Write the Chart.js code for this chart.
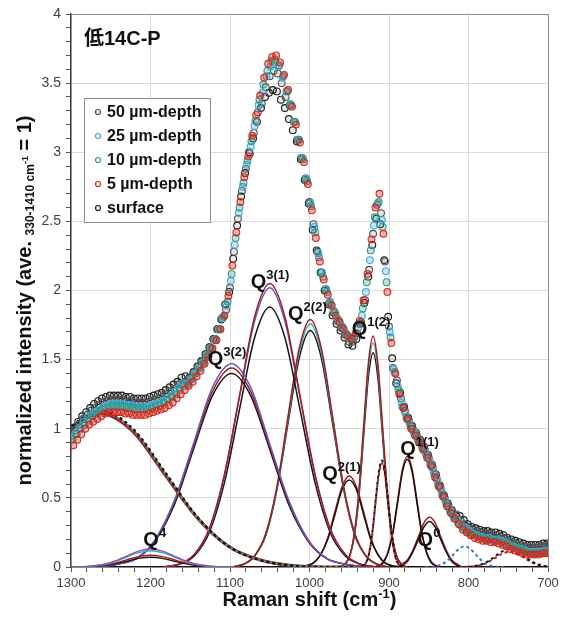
<!DOCTYPE html>
<html>
<head>
<meta charset="utf-8">
<script src="https://cdn.jsdelivr.net/npm/chart.js@4.4.1/dist/chart.umd.min.js"></script>
<style>
  body { margin: 0; background: #fff; }
</style>
</head>
<body>
<canvas id="ramanChart" width="569" height="618"></canvas>
<script>
// measured spectra, one value every 5 cm-1 going down from each start
var seriesNames = ['50 µm-depth', '25 µm-depth', '10 µm-depth', '5 µm-depth', 'surface'];
var seriesStart = [1300, 1299, 1298, 1297, 1296];
var stepCm = 5;

var depth50 = [
    0.95, 0.99, 1.03, 1.07, 1.10, 1.13, 1.15, 1.17, 1.19, 1.20,
    1.21, 1.21, 1.21, 1.21, 1.20, 1.20, 1.19, 1.19, 1.19, 1.19,
    1.20, 1.21, 1.22, 1.23, 1.25, 1.27, 1.29, 1.32, 1.33, 1.34,
    1.37, 1.41, 1.45, 1.49, 1.54, 1.59, 1.65, 1.72, 1.80, 1.86,
    2.02, 2.28, 2.52, 2.72, 2.88, 2.99, 3.14, 3.29, 3.35, 3.47,
    3.55, 3.59, 3.57, 3.50, 3.40, 3.34, 3.22, 3.09, 2.96, 2.81,
    2.64, 2.48, 2.28, 2.13, 2.01, 1.91, 1.84, 1.78, 1.73, 1.68,
    1.63, 1.63, 1.69, 1.77, 1.93, 2.15, 2.41, 2.62, 2.56, 2.21,
    1.74, 1.44, 1.35, 1.22, 1.13, 1.06, 1.00, 0.95, 0.90, 0.85,
    0.79, 0.72, 0.64, 0.57, 0.50, 0.44, 0.39, 0.38, 0.34, 0.31,
    0.29, 0.27, 0.26, 0.25, 0.24, 0.24, 0.23, 0.23, 0.22, 0.21,
    0.19, 0.18, 0.17, 0.16, 0.15, 0.14, 0.14, 0.14, 0.14, 0.15,
    0.15];
var depth25 = [
    0.93, 0.97, 1.01, 1.05, 1.08, 1.10, 1.12, 1.14, 1.16, 1.17,
    1.18, 1.18, 1.18, 1.18, 1.17, 1.17, 1.16, 1.16, 1.16, 1.16,
    1.17, 1.18, 1.19, 1.20, 1.22, 1.24, 1.27, 1.30, 1.33, 1.33,
    1.36, 1.40, 1.44, 1.48, 1.53, 1.58, 1.64, 1.72, 1.80, 1.89,
    2.07, 2.33, 2.56, 2.75, 2.91, 3.04, 3.19, 3.34, 3.43, 3.55,
    3.62, 3.65, 3.62, 3.54, 3.44, 3.35, 3.22, 3.09, 2.96, 2.81,
    2.63, 2.46, 2.27, 2.13, 2.01, 1.92, 1.85, 1.79, 1.74, 1.69,
    1.65, 1.66, 1.73, 1.82, 1.99, 2.22, 2.47, 2.63, 2.51, 2.14,
    1.70, 1.43, 1.31, 1.19, 1.11, 1.04, 0.98, 0.93, 0.88, 0.83,
    0.77, 0.69, 0.62, 0.55, 0.48, 0.42, 0.37, 0.34, 0.30, 0.28,
    0.26, 0.24, 0.23, 0.22, 0.21, 0.21, 0.20, 0.20, 0.19, 0.18,
    0.16, 0.15, 0.14, 0.13, 0.12, 0.11, 0.11, 0.11, 0.11, 0.12,
    0.12];
var depth10 = [
    0.92, 0.96, 1.00, 1.03, 1.06, 1.09, 1.11, 1.13, 1.14, 1.15,
    1.16, 1.16, 1.16, 1.16, 1.15, 1.15, 1.14, 1.14, 1.14, 1.14,
    1.15, 1.16, 1.17, 1.19, 1.21, 1.23, 1.25, 1.28, 1.31, 1.32,
    1.36, 1.40, 1.44, 1.48, 1.53, 1.58, 1.65, 1.72, 1.81, 1.92,
    2.12, 2.38, 2.60, 2.78, 2.94, 3.08, 3.23, 3.38, 3.49, 3.59,
    3.66, 3.67, 3.63, 3.55, 3.44, 3.34, 3.22, 3.09, 2.95, 2.79,
    2.61, 2.42, 2.24, 2.10, 1.99, 1.90, 1.84, 1.78, 1.73, 1.68,
    1.65, 1.67, 1.76, 1.87, 2.06, 2.29, 2.53, 2.64, 2.46, 2.06,
    1.66, 1.41, 1.28, 1.16, 1.08, 1.02, 0.96, 0.91, 0.86, 0.81,
    0.74, 0.67, 0.59, 0.52, 0.46, 0.40, 0.35, 0.32, 0.29, 0.26,
    0.24, 0.23, 0.22, 0.21, 0.20, 0.20, 0.19, 0.19, 0.18, 0.16,
    0.15, 0.14, 0.13, 0.12, 0.11, 0.10, 0.10, 0.10, 0.10, 0.11,
    0.11];
var depth5 = [
    0.88, 0.92, 0.96, 1.00, 1.03, 1.05, 1.07, 1.09, 1.11, 1.12,
    1.12, 1.12, 1.12, 1.11, 1.11, 1.10, 1.10, 1.10, 1.10, 1.11,
    1.12, 1.13, 1.14, 1.15, 1.17, 1.19, 1.22, 1.25, 1.28, 1.31,
    1.34, 1.38, 1.42, 1.47, 1.52, 1.58, 1.64, 1.72, 1.82, 1.96,
    2.18, 2.42, 2.64, 2.82, 2.97, 3.12, 3.27, 3.41, 3.54, 3.64,
    3.69, 3.70, 3.65, 3.56, 3.45, 3.33, 3.20, 3.07, 2.93, 2.77,
    2.58, 2.38, 2.21, 2.08, 1.97, 1.89, 1.82, 1.77, 1.72, 1.67,
    1.65, 1.69, 1.78, 1.93, 2.12, 2.37, 2.60, 2.70, 2.41, 1.99,
    1.62, 1.40, 1.25, 1.15, 1.07, 1.00, 0.95, 0.90, 0.85, 0.79,
    0.73, 0.65, 0.58, 0.51, 0.44, 0.39, 0.35, 0.31, 0.27, 0.25,
    0.23, 0.21, 0.20, 0.19, 0.19, 0.18, 0.18, 0.17, 0.16, 0.15,
    0.13, 0.12, 0.11, 0.10, 0.09, 0.09, 0.09, 0.09, 0.10, 0.10,
    0.10];
var surface = [
    1.01, 1.05, 1.09, 1.12, 1.15, 1.18, 1.20, 1.22, 1.23, 1.24,
    1.24, 1.24, 1.24, 1.23, 1.23, 1.22, 1.22, 1.22, 1.22, 1.23,
    1.24, 1.25, 1.26, 1.28, 1.30, 1.32, 1.34, 1.37, 1.38, 1.37,
    1.41, 1.45, 1.49, 1.54, 1.59, 1.65, 1.72, 1.79, 1.90, 1.99,
    2.23, 2.47, 2.68, 2.85, 3.00, 3.10, 3.22, 3.32, 3.40, 3.43,
    3.45, 3.44, 3.38, 3.32, 3.24, 3.16, 3.08, 2.95, 2.80, 2.63,
    2.44, 2.29, 2.13, 2.00, 1.90, 1.82, 1.76, 1.71, 1.66, 1.61,
    1.60, 1.65, 1.76, 1.91, 2.10, 2.33, 2.52, 2.48, 2.22, 1.81,
    1.51, 1.33, 1.26, 1.16, 1.08, 1.02, 0.97, 0.92, 0.87, 0.81,
    0.74, 0.67, 0.59, 0.52, 0.46, 0.41, 0.37, 0.37, 0.34, 0.31,
    0.29, 0.28, 0.27, 0.26, 0.26, 0.25, 0.25, 0.24, 0.23, 0.21,
    0.20, 0.19, 0.18, 0.17, 0.16, 0.16, 0.16, 0.16, 0.17, 0.17,
    0.17];

// fitted component bands
var q4X = [1305, 1290, 1275, 1260, 1245, 1230, 1215, 1200, 1185, 1170, 1155, 1140, 1125, 1110, 1095];
var q4Purple = [0.000, 0.001, 0.006, 0.018, 0.042, 0.079, 0.115, 0.130, 0.115, 0.079, 0.042, 0.018, 0.006, 0.001, 0.000];
var q4Blue = [0.000, 0.001, 0.005, 0.016, 0.038, 0.072, 0.104, 0.118, 0.104, 0.072, 0.038, 0.016, 0.005, 0.001, 0.000];
var q4Red = [0.000, 0.001, 0.004, 0.012, 0.028, 0.052, 0.075, 0.085, 0.075, 0.052, 0.028, 0.012, 0.004, 0.001, 0.000];
var q4Black = [0.000, 0.001, 0.003, 0.009, 0.023, 0.042, 0.062, 0.070, 0.062, 0.042, 0.023, 0.009, 0.003, 0.001, 0.000];

var q32X = [1266, 1242, 1218, 1194, 1170, 1146, 1122, 1098, 1074, 1050, 1026, 1002, 978, 954, 930];
var q32Blue = [0.00, 0.02, 0.06, 0.20, 0.48, 0.89, 1.30, 1.47, 1.30, 0.89, 0.48, 0.20, 0.06, 0.02, 0.00];
var q32Red = [0.00, 0.02, 0.06, 0.19, 0.47, 0.87, 1.27, 1.44, 1.27, 0.87, 0.47, 0.19, 0.06, 0.02, 0.00];
var q32Black = [0.00, 0.02, 0.06, 0.19, 0.45, 0.85, 1.24, 1.40, 1.24, 0.85, 0.45, 0.19, 0.06, 0.02, 0.00];

var q31X = [1183, 1164, 1145, 1126, 1107, 1088, 1069, 1050, 1031, 1012, 993, 974, 955, 936, 917];
var q31Red = [0.00, 0.02, 0.09, 0.28, 0.67, 1.24, 1.81, 2.05, 1.81, 1.24, 0.67, 0.28, 0.09, 0.02, 0.00];
var q31Blue = [0.00, 0.02, 0.09, 0.27, 0.66, 1.23, 1.78, 2.02, 1.78, 1.23, 0.66, 0.27, 0.09, 0.02, 0.00];
var q31Black = [0.00, 0.02, 0.08, 0.25, 0.61, 1.14, 1.66, 1.88, 1.66, 1.14, 0.61, 0.25, 0.08, 0.02, 0.00];

var q22X = [1097, 1083, 1069, 1055, 1041, 1027, 1013, 999, 985, 971, 957, 943, 929, 915, 901];
var q22Red = [0.00, 0.02, 0.08, 0.24, 0.58, 1.09, 1.58, 1.79, 1.58, 1.09, 0.58, 0.24, 0.08, 0.02, 0.00];
var q22Cyan = [0.00, 0.02, 0.08, 0.24, 0.57, 1.07, 1.55, 1.76, 1.55, 1.07, 0.57, 0.24, 0.08, 0.02, 0.00];
var q22Black = [0.00, 0.02, 0.08, 0.23, 0.56, 1.04, 1.51, 1.71, 1.51, 1.04, 0.56, 0.23, 0.08, 0.02, 0.00];

var q12X = [962, 956, 950, 944, 938, 932, 926, 920, 914, 908, 902, 896, 890, 884, 878];
var q12Red = [0.00, 0.02, 0.07, 0.23, 0.54, 1.01, 1.47, 1.67, 1.47, 1.01, 0.54, 0.23, 0.07, 0.02, 0.00];
var q12Cyan = [0.00, 0.02, 0.07, 0.22, 0.53, 0.98, 1.43, 1.62, 1.43, 0.98, 0.53, 0.22, 0.07, 0.02, 0.00];
var q12Black = [0.00, 0.02, 0.07, 0.21, 0.50, 0.94, 1.37, 1.55, 1.37, 0.94, 0.50, 0.21, 0.07, 0.02, 0.00];

var q21X = [1013, 1004, 995, 986, 977, 968, 959, 950, 941, 932, 923, 914, 905, 896, 887];
var q21Red = [0.00, 0.01, 0.03, 0.09, 0.21, 0.40, 0.58, 0.66, 0.58, 0.40, 0.21, 0.09, 0.03, 0.01, 0.00];
var q21Black = [0.00, 0.01, 0.03, 0.09, 0.20, 0.38, 0.56, 0.63, 0.56, 0.38, 0.20, 0.09, 0.03, 0.01, 0.00];

var q11X = [919, 913, 907, 901, 895, 889, 883, 877, 871, 865, 859, 853, 847, 841, 835];
var q11Red = [0.00, 0.01, 0.04, 0.11, 0.26, 0.49, 0.71, 0.80, 0.71, 0.49, 0.26, 0.11, 0.04, 0.01, 0.00];
var q11Black = [0.00, 0.01, 0.03, 0.11, 0.25, 0.47, 0.69, 0.78, 0.69, 0.47, 0.25, 0.11, 0.03, 0.01, 0.00];

var q0X = [898, 891, 884, 877, 870, 863, 856, 849, 842, 835, 828, 821, 814, 807, 800];
var q0Red = [0.00, 0.00, 0.02, 0.05, 0.12, 0.22, 0.32, 0.36, 0.32, 0.22, 0.12, 0.05, 0.02, 0.00, 0.00];
var q0Black = [0.00, 0.00, 0.01, 0.04, 0.11, 0.20, 0.29, 0.33, 0.29, 0.20, 0.11, 0.04, 0.01, 0.00, 0.00];

// dotted bands
var wideX = [1342, 1302, 1262, 1222, 1182, 1142, 1102, 1062, 1022, 982, 942];
var wideBlack = [0.69, 1.00, 1.13, 1.00, 0.69, 0.37, 0.15, 0.05, 0.01, 0.00, 0.00];
var wideTeal = [0.68, 0.99, 1.12, 0.99, 0.68, 0.36, 0.15, 0.05, 0.01, 0.00, 0.00];
var wideRed = [0.67, 0.98, 1.11, 0.98, 0.67, 0.36, 0.15, 0.05, 0.01, 0.00, 0.00];

var narrowX = [937, 933, 929, 925, 921, 917, 913, 909, 905, 901, 897, 893, 889, 885, 881];
var narrowBlack = [0.00, 0.01, 0.03, 0.10, 0.25, 0.47, 0.68, 0.77, 0.68, 0.47, 0.25, 0.10, 0.03, 0.01, 0.00];
var narrowRed = [0.00, 0.01, 0.03, 0.10, 0.24, 0.46, 0.66, 0.75, 0.66, 0.46, 0.24, 0.10, 0.03, 0.01, 0.00];

var tailAX = [854, 847, 840, 833, 826, 819, 812, 805, 798, 791, 784, 777, 770, 763, 756];
var tailABlue = [0.000, 0.002, 0.007, 0.020, 0.049, 0.091, 0.132, 0.150, 0.132, 0.091, 0.049, 0.020, 0.007, 0.002, 0.000];
var tailBX = [811, 802, 793, 784, 775, 766, 757, 748, 739, 730, 721, 712, 703, 694, 685];
var tailBBlack = [0.000, 0.001, 0.006, 0.018, 0.042, 0.079, 0.115, 0.130, 0.115, 0.079, 0.042, 0.018, 0.006, 0.001, 0.000];
var tailBRed = [0.000, 0.001, 0.005, 0.015, 0.036, 0.067, 0.097, 0.110, 0.097, 0.067, 0.036, 0.015, 0.005, 0.001, 0.000];

var baseX = [1300, 700];
var baseY = [0, 0];

// peak names
var peakSup = ['4', '3(2)', '3(1)', '2(2)', '1(2)', '2(1)', '1(1)', '0'];
var peakLabelX = [1209, 1128, 1074, 1027, 947, 984, 886, 864];
var peakLabelY = [0.15, 1.46, 2.02, 1.79, 1.68, 0.63, 0.81, 0.15];

var FONT = '"Liberation Sans", Arial, "Noto Sans CJK JP", sans-serif';
var seriesColors = ['#505050', '#3fa9dc', '#2e9c88', '#d3261c', '#1b1b1b'];
var seriesFills = ['rgba(80,80,80,0.15)', 'rgba(63,169,220,0.3)', 'rgba(46,156,136,0.3)', 'rgba(211,38,28,0.35)', 'rgba(27,27,27,0.1)'];

function spectrum(idx, values) {
    return {
        label: seriesNames[idx],
        data: values.map(function (y, i) { return { x: seriesStart[idx] - stepCm * i, y: y }; }),
        pointRadius: 3.4,
        pointBorderWidth: 1.1,
        borderColor: seriesColors[idx],
        backgroundColor: seriesFills[idx],
        order: 0
    };
}

function curve(xs, ys, color, width, dash, dashOffset) {
    return {
        data: xs.map(function (x, i) { return { x: x, y: ys[i] }; }),
        showLine: true,
        borderColor: color,
        borderWidth: width,
        borderDash: dash || [],
        borderDashOffset: dashOffset || 0,
        pointRadius: 0,
        cubicInterpolationMode: 'monotone',
        fill: false,
        order: 1
    };
}

var RED = '#a51a1a', BLACK = '#141414', BLUE = '#5a5cc6', CYAN = '#39a7bd', PURPLE = '#8a55b8', TEAL = '#2aa89a';

function isMajor(v, step) {
    var r = Math.round(v / step * 1000) / 1000;
    return Math.abs(r - Math.round(r)) < 1e-6;
}

function runs(ctx, x, y, parts) {
    parts.forEach(function (p) {
        ctx.font = 'bold ' + p.size + 'px ' + FONT;
        ctx.fillText(p.text, x, y + (p.dy || 0));
        x += ctx.measureText(p.text).width;
    });
}

function runsWidth(ctx, parts) {
    var w = 0;
    parts.forEach(function (p) {
        ctx.font = 'bold ' + p.size + 'px ' + FONT;
        w += ctx.measureText(p.text).width;
    });
    return w;
}

var decorations = {
    id: 'decorations',
    afterDatasetsDraw: function (chart) {
        var ctx = chart.ctx, a = chart.chartArea;
        var xs = chart.scales.x, ys = chart.scales.y;
        ctx.save();

        // frame on the open sides
        ctx.strokeStyle = '#8c8c8c';
        ctx.lineWidth = 1;
        ctx.beginPath();
        ctx.moveTo(a.left, a.top + 0.5);
        ctx.lineTo(a.right + 0.5, a.top + 0.5);
        ctx.lineTo(a.right + 0.5, a.bottom);
        ctx.stroke();

        ctx.fillStyle = '#111';
        ctx.textBaseline = 'alphabetic';
        ctx.textAlign = 'left';

        // sample name
        runs(ctx, 84, 45, [{ text: '低14C-P', size: 20 }]);

        // peak names
        peakSup.forEach(function (s, i) {
            var px = xs.getPixelForValue(peakLabelX[i]);
            var py = ys.getPixelForValue(peakLabelY[i]);
            runs(ctx, px, py, [{ text: 'Q', size: 20 }, { text: s, size: 13, dy: -9 }]);
        });

        // legend
        var lx = 84, ly = 98, lw = 126, lh = 124;
        ctx.fillStyle = '#fff';
        ctx.fillRect(lx, ly, lw, lh);
        ctx.strokeStyle = '#8c8c8c';
        ctx.strokeRect(lx + 0.5, ly + 0.5, lw, lh);
        seriesNames.forEach(function (name, i) {
            var cy = ly + 14 + i * 24;
            ctx.beginPath();
            ctx.arc(lx + 14, cy, 2.5, 0, Math.PI * 2);
            ctx.strokeStyle = seriesColors[i];
            ctx.lineWidth = 1.2;
            ctx.stroke();
            ctx.fillStyle = '#111';
            ctx.textBaseline = 'middle';
            ctx.font = 'bold 16px ' + FONT;
            ctx.fillText(name, lx + 23, cy + 1);
        });

        // axis titles
        ctx.textBaseline = 'alphabetic';
        ctx.fillStyle = '#111';
        var xt = [{ text: 'Raman shift (cm', size: 20 }, { text: '-1', size: 13, dy: -8 }, { text: ')', size: 20 }];
        runs(ctx, (a.left + a.right) / 2 - runsWidth(ctx, xt) / 2, 606, xt);

        var yt = [
            { text: 'normalized intensity (ave. ', size: 20 },
            { text: '330-1410 cm', size: 12, dy: 3 },
            { text: '-1', size: 9, dy: -3 },
            { text: ' = 1)', size: 20 }
        ];
        ctx.translate(31, (a.top + a.bottom) / 2 + 10);
        ctx.rotate(-Math.PI / 2);
        runs(ctx, -runsWidth(ctx, yt) / 2, 0, yt);
        ctx.restore();
    }
};

document.addEventListener('DOMContentLoaded', function () {
    Chart.defaults.font.family = FONT;

    var datasets = [
        spectrum(3, depth5),
        spectrum(2, depth10),
        spectrum(1, depth25),
        spectrum(0, depth50),
        spectrum(4, surface),

        // earlier entries end up on top, so the dots go before the solid under-stroke
        curve(wideX, wideBlack, BLACK, 2.2, [3, 3], 3),
        curve(wideX, wideTeal, TEAL, 2.2, [3, 3]),
        curve(wideX, wideRed, RED, 3.2),
        curve(narrowX, narrowBlack, BLACK, 2, [3, 3], 3),
        curve(narrowX, narrowRed, RED, 2, [3, 3]),
        curve(tailAX, tailABlue, '#3a72c0', 2, [3, 3]),
        curve(tailBX, tailBBlack, BLACK, 2, [3, 3], 3),
        curve(tailBX, tailBRed, RED, 2, [3, 3]),

        curve(q4X, q4Purple, PURPLE, 1.4),
        curve(q4X, q4Blue, CYAN, 1.4),
        curve(q4X, q4Red, RED, 1.4),
        curve(q4X, q4Black, BLACK, 1.4),
        curve(q32X, q32Blue, BLUE, 1.5),
        curve(q32X, q32Red, RED, 1.5),
        curve(q32X, q32Black, BLACK, 1.5),
        curve(q31X, q31Red, RED, 1.5),
        curve(q31X, q31Blue, BLUE, 1.5),
        curve(q31X, q31Black, BLACK, 1.5),
        curve(q22X, q22Red, RED, 1.5),
        curve(q22X, q22Cyan, CYAN, 1.5),
        curve(q22X, q22Black, BLACK, 1.5),
        curve(q12X, q12Red, RED, 1.5),
        curve(q12X, q12Cyan, CYAN, 1.5),
        curve(q12X, q12Black, BLACK, 1.5),
        curve(q21X, q21Black, BLACK, 1.5),
        curve(q21X, q21Red, RED, 1.5),
        curve(q11X, q11Black, BLACK, 1.5),
        curve(q11X, q11Red, RED, 1.5),
        curve(q0X, q0Black, BLACK, 1.5),
        curve(q0X, q0Red, RED, 1.5),
        curve(baseX, baseY, BLACK, 2)
    ];

    new Chart(document.getElementById('ramanChart'), {
        type: 'scatter',
        data: { datasets: datasets },
        plugins: [decorations],
        options: {
            responsive: false,
            animation: false,
            layout: { padding: { left: 0, top: 14, right: 21, bottom: 0 } },
            plugins: {
                legend: { display: false },
                tooltip: { enabled: false }
            },
            scales: {
                x: {
                    type: 'linear',
                    reverse: true,
                    min: 700,
                    max: 1300,
                    afterFit: function (s) { s.height = 51; },
                    border: { color: '#404040', width: 1.5 },
                    grid: {
                        color: function (c) { return isMajor(c.tick.value, 100) ? '#dadada' : 'rgba(0,0,0,0)'; },
                        tickColor: '#555',
                        tickLength: 5
                    },
                    ticks: {
                        stepSize: 20,
                        autoSkip: false,
                        maxRotation: 0,
                        maxTicksLimit: 100,
                        padding: 4,
                        color: '#404040',
                        font: { size: 13 },
                        callback: function (v) { return isMajor(v, 100) ? String(Math.round(v)) : ''; }
                    }
                },
                y: {
                    type: 'linear',
                    min: 0,
                    max: 4,
                    afterFit: function (s) { s.width = 71; },
                    border: { color: '#404040', width: 1.5 },
                    grid: {
                        color: function (c) { return isMajor(c.tick.value, 0.5) ? '#dadada' : 'rgba(0,0,0,0)'; },
                        tickColor: '#555',
                        tickLength: 5
                    },
                    ticks: {
                        stepSize: 0.1,
                        autoSkip: false,
                        maxTicksLimit: 100,
                        padding: 5,
                        color: '#404040',
                        font: { size: 14 },
                        callback: function (v) { return isMajor(v, 0.5) ? String(Math.round(v * 10) / 10) : ''; }
                    }
                }
            }
        }
    });
});
</script>
</body>
</html>
